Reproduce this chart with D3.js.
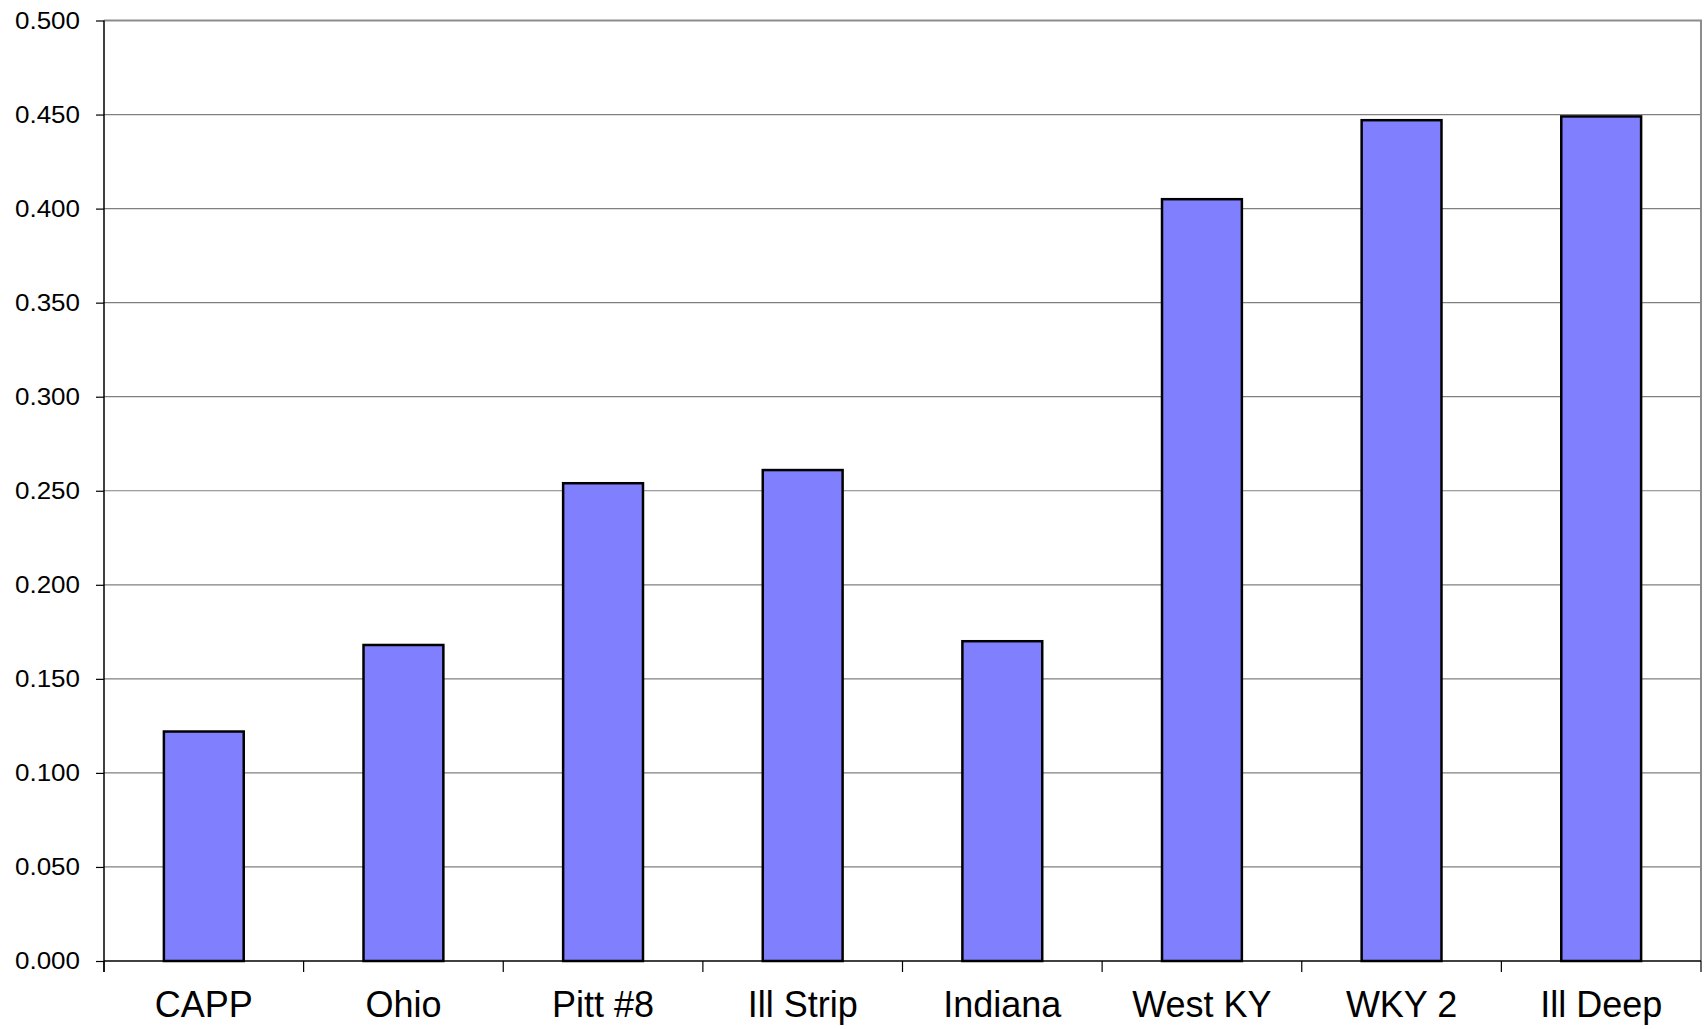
<!DOCTYPE html>
<html>
<head>
<meta charset="utf-8">
<script src="https://cdn.jsdelivr.net/npm/d3@7"></script>
<style>
  html, body { margin: 0; padding: 0; background: #fff; }
  svg { display: block; }
</style>
</head>
<body>
<svg id="chart" width="1706" height="1029"></svg>
<script>
const categories = ["CAPP", "Ohio", "Pitt #8", "Ill Strip", "Indiana", "West KY", "WKY 2", "Ill Deep"];
const values = [0.122, 0.168, 0.254, 0.261, 0.170, 0.405, 0.447, 0.449];
const yTicks = [0, 0.05, 0.10, 0.15, 0.20, 0.25, 0.30, 0.35, 0.40, 0.45, 0.50];

(function () {
const svg = d3.select("#chart");
const mLeft = 104, mRight = 1701, mTop = 20.5, mBottom = 961;

const x = d3.scaleBand().domain(categories).range([mLeft, mRight]).paddingInner(0.6).paddingOuter(0.3);
const y = d3.scaleLinear().domain([0, 0.5]).range([mBottom, mTop]);

// gridlines
svg.append("g").selectAll("line")
  .data(yTicks.filter(d => d > 0 && d < 0.5))
  .join("line")
  .attr("x1", mLeft).attr("x2", mRight)
  .attr("y1", d => y(d)).attr("y2", d => y(d))
  .attr("stroke", "#808080").attr("stroke-width", 1.2);

// top border and right border
svg.append("line").attr("x1", mLeft).attr("x2", mRight + 1).attr("y1", y(0.5)).attr("y2", y(0.5))
  .attr("stroke", "#8c8c8c").attr("stroke-width", 2);
svg.append("line").attr("x1", mRight).attr("x2", mRight).attr("y1", y(0.5)).attr("y2", mBottom)
  .attr("stroke", "#8c8c8c").attr("stroke-width", 2);

// bars
svg.append("g").selectAll("rect")
  .data(categories.map((c, i) => ({c, v: values[i]})))
  .join("rect")
  .attr("x", d => x(d.c))
  .attr("width", x.bandwidth())
  .attr("y", d => y(d.v))
  .attr("height", d => y(0) - y(d.v))
  .attr("fill", "#8080ff")
  .attr("stroke", "#000")
  .attr("stroke-width", 2.5);

// left axis
const yAxis = d3.axisLeft(y).tickValues(yTicks).tickSize(8).tickPadding(0).tickFormat(d3.format(".3f"));
const gy = svg.append("g").attr("transform", `translate(${mLeft},0)`).call(yAxis);
gy.select(".domain").attr("stroke", "#000").attr("stroke-width", 1.5).attr("d", `M0,${mTop}V${mBottom + 11}`);
gy.selectAll(".tick line").attr("stroke", "#000").attr("stroke-width", 1.2);
gy.selectAll(".tick text")
  .attr("font-family", "Liberation Sans, Arial, sans-serif")
  .attr("font-size", 23)
  .attr("fill", "#000")
  .attr("x", null).attr("dy", null)
  .attr("text-anchor", "end")
  .attr("dominant-baseline", "central")
  .attr("transform", "translate(-24,0) scale(1.13,1)");

// bottom axis
const gx = svg.append("g").attr("transform", `translate(0,${mBottom})`);
gx.append("line").attr("x1", mLeft).attr("x2", mRight).attr("y1", 0).attr("y2", 0)
  .attr("stroke", "#000").attr("stroke-width", 1.5);
const bx = [mLeft].concat(categories.map(c => x(c) + x.bandwidth() / 2 + x.step() / 2));
gx.selectAll("line.tk").data(bx).join("line").attr("class", "tk")
  .attr("x1", d => d).attr("x2", d => d).attr("y1", 0).attr("y2", 11)
  .attr("stroke", "#000").attr("stroke-width", 1.2);
gx.selectAll("text").data(categories).join("text")
  .attr("x", d => x(d) + x.bandwidth() / 2)
  .attr("y", 56)
  .attr("text-anchor", "middle")
  .attr("font-family", "Liberation Sans, Arial, sans-serif")
  .attr("font-size", 36)
  .attr("fill", "#000")
  .text(d => d);
})();
</script>
</body>
</html>
